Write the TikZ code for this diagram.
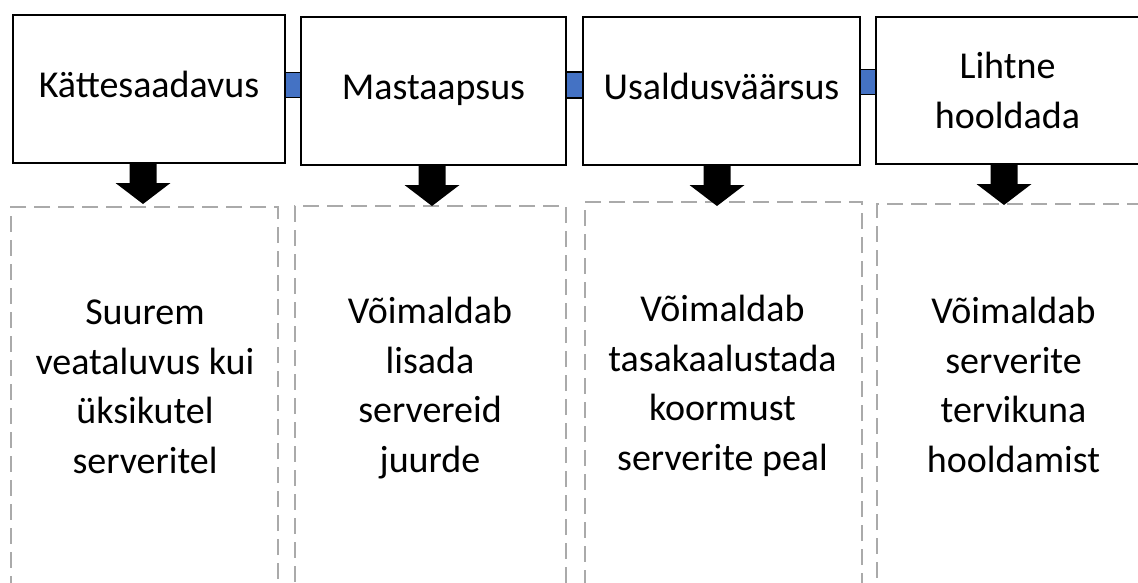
\documentclass[tikz,border=0pt]{standalone}
\usepackage{fontspec}
\setmainfont{Carlito}
\usetikzlibrary{calc}
\definecolor{linkblue}{HTML}{4472C4}
\definecolor{dashgray}{HTML}{AAAAAA}
% down-pointing block arrow whose shaft starts at #1
\newcommand\blockarrowat[1]{%
  \fill[black] (#1) ++(-13.5,0) -- ++(27,0) -- ++(0,19) -- ++(14,0)
    -- ++(-27.5,21) -- ++(-27.5,-21) -- ++(14,0) -- cycle;}
\begin{document}
\begin{tikzpicture}[x=1pt,y=-1pt,
  bigtext/.style={font=\fontsize{38}{49.5}\selectfont},
  header/.style={draw=black, line width=2pt, fill=white, inner sep=0pt,
    bigtext, align=center, minimum height=148pt},
  oneline/.style={text height=26pt, text depth=8pt},
  link/.style={draw=black, line width=1.5pt, fill=linkblue, inner sep=0pt,
    minimum width=16pt, minimum height=25pt},
  detailbox/.style={draw=dashgray, line width=2pt, dash pattern=on 16pt off 8pt,
    inner sep=0pt},
  detail/.style={bigtext, align=center, inner sep=0pt, anchor=north}]
\useasboundingbox (0,0) rectangle (1138,583);
\clip (0,0) rectangle (1138,583);

% headers
\node[header, oneline, minimum width=272pt] (h1) at (149,89) {Kättesaadavus};
\node[header, oneline, minimum width=265pt] (h2) at (433.5,91) {Mastaapsus};
\node[header, oneline, minimum width=277pt] (h3) at (721.5,91) {Usaldusväärsus};
\node[header, minimum width=263pt, minimum height=147pt] (h4) at (1007.5,90.5) {Lihtne\\hooldada};

% links between headers
\path (h1.east) -- (h2.west) node[midway, link, yshift=5pt] (l1) {};
\path (h2.east) -- (h3.west) node[midway, link, yshift=6pt, minimum width=17pt, minimum height=26pt] (l2) {};
\path (h3.east) -- (h4.west) node[midway, link, yshift=8.5pt, minimum width=15pt] (l3) {};

% dashed detail boxes
\node[detailbox, minimum width=267pt, minimum height=393pt] (d1) at (144.5,403.5) {};
\node[detailbox, minimum width=271pt, minimum height=394pt] (d2) at (430.5,403) {};
\node[detailbox, minimum width=277pt, minimum height=398pt] (d3) at (723.5,401) {};
\node[detailbox, minimum width=271pt, minimum height=396pt] (d4) at (1012.5,402) {};

% arrows from headers to detail boxes
\blockarrowat{$(h1.south)+(-6,0)$}
\blockarrowat{$(h2.south)+(-1.5,0)$}
\blockarrowat{$(h3.south)+(-4.5,0)$}
\blockarrowat{$(h4.south)+(-3.5,0)$}

% detail texts
\node[detail] (t1) at ($(d1.north)+(0.5,94)$) {Suurem\\veataluvus kui\\üksikutel\\serveritel};
\node[detail] (t2) at ($(d2.north)+(-0.5,92)$) {Võimaldab\\lisada\\servereid\\juurde};
\node[detail] (t3) at ($(d3.north)+(-1,94)$) {Võimaldab\\tasakaalustada\\koormust\\serverite peal};
\node[detail] (t4) at ($(d4.north)+(1,94)$) {Võimaldab\\serverite\\tervikuna\\hooldamist};
\end{tikzpicture}
\end{document}
